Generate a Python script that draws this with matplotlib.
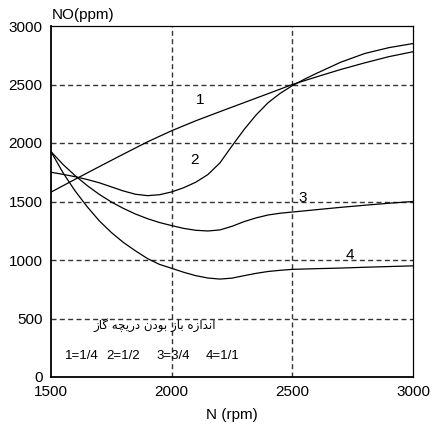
import matplotlib
matplotlib.use("Agg")
import matplotlib.pyplot as plt

# engine speed (rpm) and NO concentration (ppm) for each throttle opening
n1 = [1500, 1600, 1700, 1800, 1900, 2000, 2100, 2200, 2300, 2400, 2500, 2600, 2700, 2800, 2900, 3000]
no1 = [1580, 1690, 1798, 1905, 2010, 2105, 2190, 2268, 2345, 2422, 2500, 2565, 2628, 2685, 2738, 2780]

n2 = [1500, 1550, 1600, 1650, 1700, 1750, 1800, 1850, 1900, 1950, 2000, 2050, 2100, 2150, 2200, 2250,
      2300, 2350, 2400, 2450, 2500, 2550, 2600, 2700, 2800, 2900, 3000]
no2 = [1750, 1732, 1712, 1688, 1660, 1625, 1590, 1562, 1550, 1558, 1582, 1618, 1665, 1730, 1830, 1975,
       2115, 2240, 2345, 2425, 2490, 2545, 2595, 2690, 2765, 2815, 2850]

n3 = [1500, 1550, 1600, 1650, 1700, 1750, 1800, 1850, 1900, 1950, 2000, 2050, 2100, 2150, 2200, 2250,
      2300, 2350, 2400, 2450, 2500, 2600, 2700, 2800, 2900, 3000]
no3 = [1926, 1816, 1721, 1636, 1561, 1496, 1441, 1393, 1353, 1320, 1294, 1270, 1254, 1248, 1257, 1288,
       1328, 1360, 1385, 1400, 1410, 1430, 1450, 1468, 1485, 1500]

n4 = [1500, 1550, 1600, 1650, 1700, 1750, 1800, 1850, 1900, 1950, 2000, 2050, 2100, 2150, 2200, 2250,
      2300, 2350, 2400, 2450, 2500, 2600, 2700, 2800, 2900, 3000]
no4 = [1926, 1745, 1590, 1455, 1335, 1235, 1150, 1078, 1012, 962, 929, 895, 866, 846, 837, 845,
       866, 886, 902, 912, 920, 926, 931, 938, 944, 950]

curve_labels = ["1", "2", "3", "4"]
label_pos = [(2118, 2367), (2093, 1855), (2545, 1533), (2739, 1043)]

key_labels = ["1=1/4", "2=1/2", "3=3/4", "4=1/1"]
key_x = [1558, 1728, 1939, 2142]

# "اندازه باز بودن دریچه گاز" written in shaped presentation forms, visual order
throttle_title = ("\uFB94\uFE8E\uFEAF"[::-1] + " " +
                  "\uFEA9\uFEAD\uFBFE\uFB7D\uFEEA"[::-1] + " " +
                  "\uFE91\uFEEE\uFEA9\uFEE5"[::-1] + " " +
                  "\uFE91\uFE8E\uFEAF"[::-1] + " " +
                  "\uFE8D\uFEE7\uFEAA\uFE8D\uFEAF\uFEE9"[::-1])

plt.rcParams['font.family'] = ['Liberation Sans', 'DejaVu Sans']

fig = plt.figure(figsize=(4.33, 4.29), dpi=100)
ax = fig.add_axes([51 / 433, 52 / 429, 362 / 433, 351 / 429])

for n, no in [(n1, no1), (n2, no2), (n3, no3), (n4, no4)]:
    ax.plot(n, no, color='black', lw=0.9, zorder=3, solid_joinstyle='round')

for lab, (x, y) in zip(curve_labels, label_pos):
    ax.text(x, y, lab, fontsize=11, ha='center', va='center', zorder=4)

for lab, x in zip(key_labels, key_x):
    ax.text(x, 180, lab, fontsize=9.5, ha='left', va='center', zorder=4)

ax.text(1930, 444, throttle_title, fontsize=8.5, ha='center', va='center',
        family=['DejaVu Sans'], zorder=4)

ax.set_xlim(1500, 3000)
ax.set_ylim(0, 3000)
ax.set_xticks([1500, 2000, 2500, 3000])
ax.set_yticks([0, 500, 1000, 1500, 2000, 2500, 3000])
ax.tick_params(length=0, labelsize=11)
ax.tick_params(axis='y', pad=6)
ax.tick_params(axis='x', pad=6)

for v in [2000, 2500]:
    ax.axvline(v, color='#333333', lw=1.0, ls=(0, (3.6, 2.4)), zorder=1)
for v in [500, 1000, 1500, 2000, 2500]:
    ax.axhline(v, color='#333333', lw=1.0, ls=(0, (3.6, 2.4)), zorder=1)

for s in ax.spines.values():
    s.set_linewidth(0.9)
ax.spines['left'].set_linewidth(1.3)
ax.spines['bottom'].set_linewidth(1.3)

fig.text(52 / 433, 1 - 15 / 429, "NO(ppm)", fontsize=11, ha='left', va='center')
fig.text(232 / 433, 1 - 415 / 429, "N (rpm)", fontsize=11, ha='center', va='center')

fig.savefig("out.png", dpi=100)
